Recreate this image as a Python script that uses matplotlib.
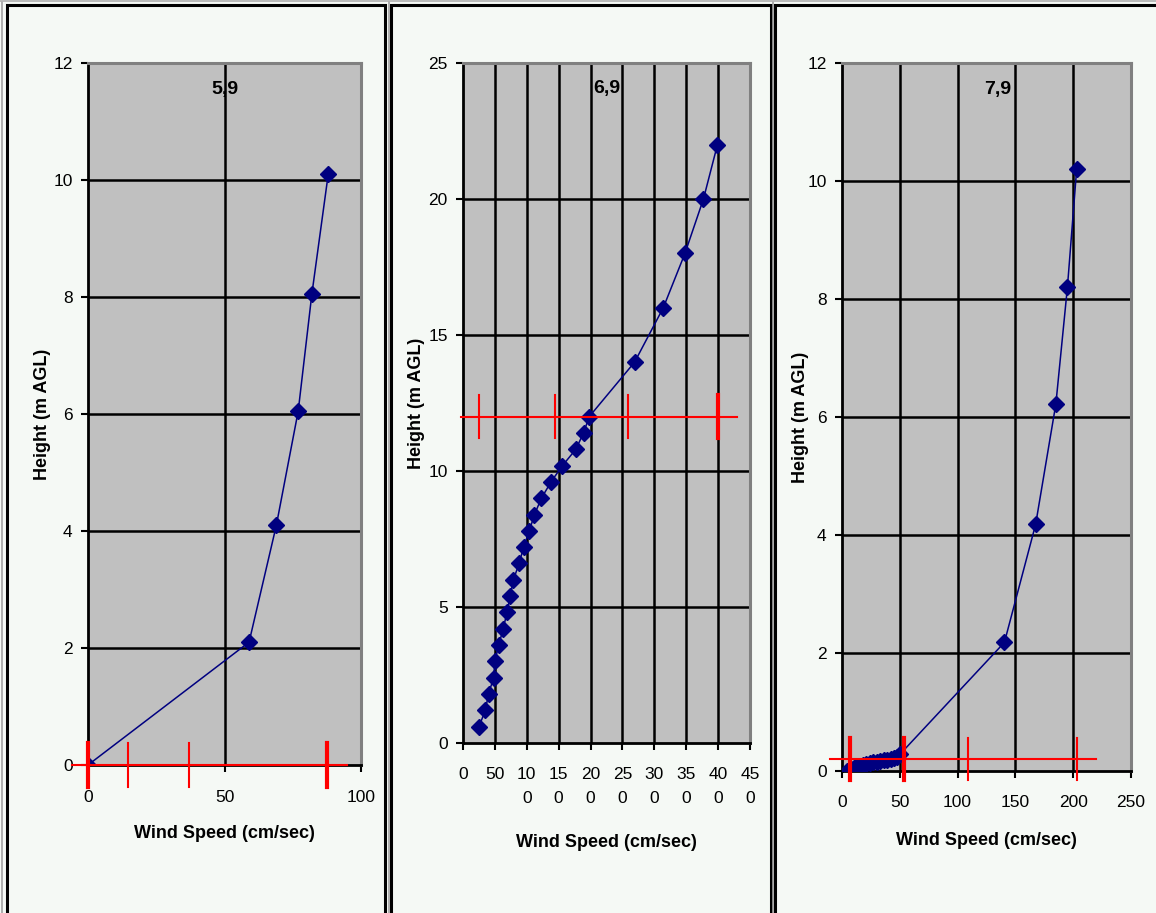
import matplotlib
matplotlib.use("Agg")
import matplotlib.pyplot as plt
from matplotlib.patches import Rectangle

plt.rcParams["font.family"] = ["Liberation Sans", "DejaVu Sans"]

NAVY, RED, PLOT_BG, PAGE = "#000080", "#ff0000", "#c0c0c0", "#f5f9f5"
W, H = 1156, 913

# ---- panel 5,9 ----
speed_59 = [0, 59, 69, 77, 82, 88]
height_59 = [0, 2.1, 4.1, 6.05, 8.05, 10.1]
bar_59_y = 0
bar_59_span = [-6, 95]
bar_59_ticks = [0, 14.5, 37, 87.5]
bar_59_thick = [True, False, False, True]

# ---- panel 6,9 ----
speed_69 = [25, 35, 40, 48, 50, 56, 63, 69, 74, 79, 88, 95, 104, 112, 123,
            138, 156, 177, 189, 198, 269, 314, 348, 377, 399]
height_69 = [0.6, 1.2, 1.8, 2.4, 3.0, 3.6, 4.2, 4.8, 5.4, 6.0, 6.6, 7.2, 7.8,
             8.4, 9.0, 9.6, 10.2, 10.8, 11.4, 12.0, 14, 16, 18, 20, 22]
xt_69 = [0, 50, 100, 150, 200, 250, 300, 350, 400, 450]
xl_69 = ["0", "50", "10\n0", "15\n0", "20\n0", "25\n0", "30\n0", "35\n0", "40\n0", "45\n0"]
bar_69_y = 12
bar_69_span = [-3, 429]
bar_69_ticks = [25, 144, 258, 400]
bar_69_thick = [False, False, False, True]

# ---- panel 7,9 ----
speed_79 = [4, 6, 8, 10, 12, 15, 18, 21, 24, 27, 30, 33, 36, 39, 42, 45, 48, 50,
            140.5, 167.5, 185, 195, 203]
height_79 = [0.0, 0.02, 0.04, 0.05, 0.07, 0.09, 0.11, 0.12, 0.14, 0.15, 0.16,
             0.17, 0.18, 0.19, 0.2, 0.22, 0.24, 0.28, 2.18, 4.18, 6.22, 8.2, 10.2]
bar_79_y = 0.2
bar_79_span = [-10, 220]
bar_79_ticks = [6.6, 53.3, 108.6, 203.3]
bar_79_thick = [True, True, False, False]


def fx(px):
    return px / W


def fy(py):
    return 1 - py / H


fig = plt.figure(figsize=(W / 100, H / 100), dpi=100, facecolor=PAGE)

# chart-area frames (run off the bottom / right of the capture)
for x0, x1 in [(7, 385), (391, 771), (775, 1200)]:
    fig.add_artist(Rectangle((fx(x0), fy(960)), fx(x1) - fx(x0), fy(5) - fy(960),
                             transform=fig.transFigure, fill=False, ec="black", lw=2.2))
for xg in [1.5, 388.5, 773]:
    fig.add_artist(plt.Line2D([fx(xg)] * 2, [0, fy(2)], transform=fig.transFigure,
                              color="#a0a0a0", lw=1.2))
fig.add_artist(plt.Line2D([0, 1], [fy(1), fy(1)], transform=fig.transFigure,
                          color="#b0b0b0", lw=1.2))


def panel(box, xs, ys, xlim, ylim, xticks, yticks, title, title_x,
          bar_y, bar_span, bar_ticks, bar_thick, bar_half,
          ylab_x, xlab_y, xpad, xticklabels=None):
    l, r, t, b = box
    ax = fig.add_axes([fx(l), fy(b), fx(r) - fx(l), fy(t) - fy(b)])
    ax.set_facecolor(PLOT_BG)
    ax.set_xlim(*xlim)
    ax.set_ylim(*ylim)
    ax.set_xticks(xticks)
    if xticklabels is not None:
        ax.set_xticklabels(xticklabels, linespacing=1.7)
    ax.set_yticks(yticks)
    for v in xticks[1:-1]:
        ax.axvline(v, color="black", lw=1.8, zorder=1)
    for v in yticks[1:-1]:
        ax.axhline(v, color="black", lw=1.8, zorder=1)
    ax.plot(xs, ys, color=NAVY, lw=1.1, marker="D", ms=8.5, mfc=NAVY, mec=NAVY, zorder=3)
    # red error bar
    ax.plot(bar_span, [bar_y, bar_y], color=RED, lw=1.5, zorder=4, clip_on=False)
    for v, thick in zip(bar_ticks, bar_thick):
        ax.plot([v, v], [bar_y - bar_half, bar_y + bar_half], color=RED,
                lw=3 if thick else 1.5, zorder=4, clip_on=False)
    for s in ["left", "bottom"]:
        ax.spines[s].set_color("black")
        ax.spines[s].set_linewidth(2)
    for s in ["top", "right"]:
        ax.spines[s].set_color("#808080")
        ax.spines[s].set_linewidth(2.2)
    ax.tick_params(axis="both", direction="out", length=5, width=1.5, colors="black",
                   labelsize=12.5)
    ax.tick_params(axis="y", pad=6)
    ax.tick_params(axis="x", pad=xpad)
    ax.text(title_x, 0.975, title, transform=ax.transAxes, ha="center", va="top",
            fontsize=14, fontweight="bold")
    ax.set_xlabel("Wind Speed (cm/sec)", fontsize=13, fontweight="bold")
    ax.set_ylabel("Height (m AGL)", fontsize=13, fontweight="bold")
    ax.xaxis.set_label_coords(0.5, xlab_y)
    ax.xaxis.label.set_va("center")
    ax.yaxis.set_label_coords(ylab_x, 0.5)
    ax.yaxis.label.set_va("center")
    return ax


panel((88, 361, 63, 765), speed_59, height_59, (0, 100), (0, 12),
      [0, 50, 100], [0, 2, 4, 6, 8, 10, 12], "5,9", 0.5,
      bar_59_y, bar_59_span, bar_59_ticks, bar_59_thick, 0.37,
      -0.168, -0.098, 13)

panel((463, 750, 63, 743), speed_69, height_69, (0, 450), (0, 25),
      xt_69, [0, 5, 10, 15, 20, 25], "6,9", 0.5,
      bar_69_y, bar_69_span, bar_69_ticks, bar_69_thick, 0.8,
      -0.161, -0.146, 12.5, xticklabels=xl_69)

panel((842, 1131, 63, 771), speed_79, height_79, (0, 250), (0, 12),
      [0, 50, 100, 150, 200, 250], [0, 2, 4, 6, 8, 10, 12], "7,9", 0.54,
      bar_79_y, bar_79_span, bar_79_ticks, bar_79_thick, 0.36,
      -0.145, -0.0975, 12)

fig.savefig("out.png", dpi=100, facecolor=PAGE)
